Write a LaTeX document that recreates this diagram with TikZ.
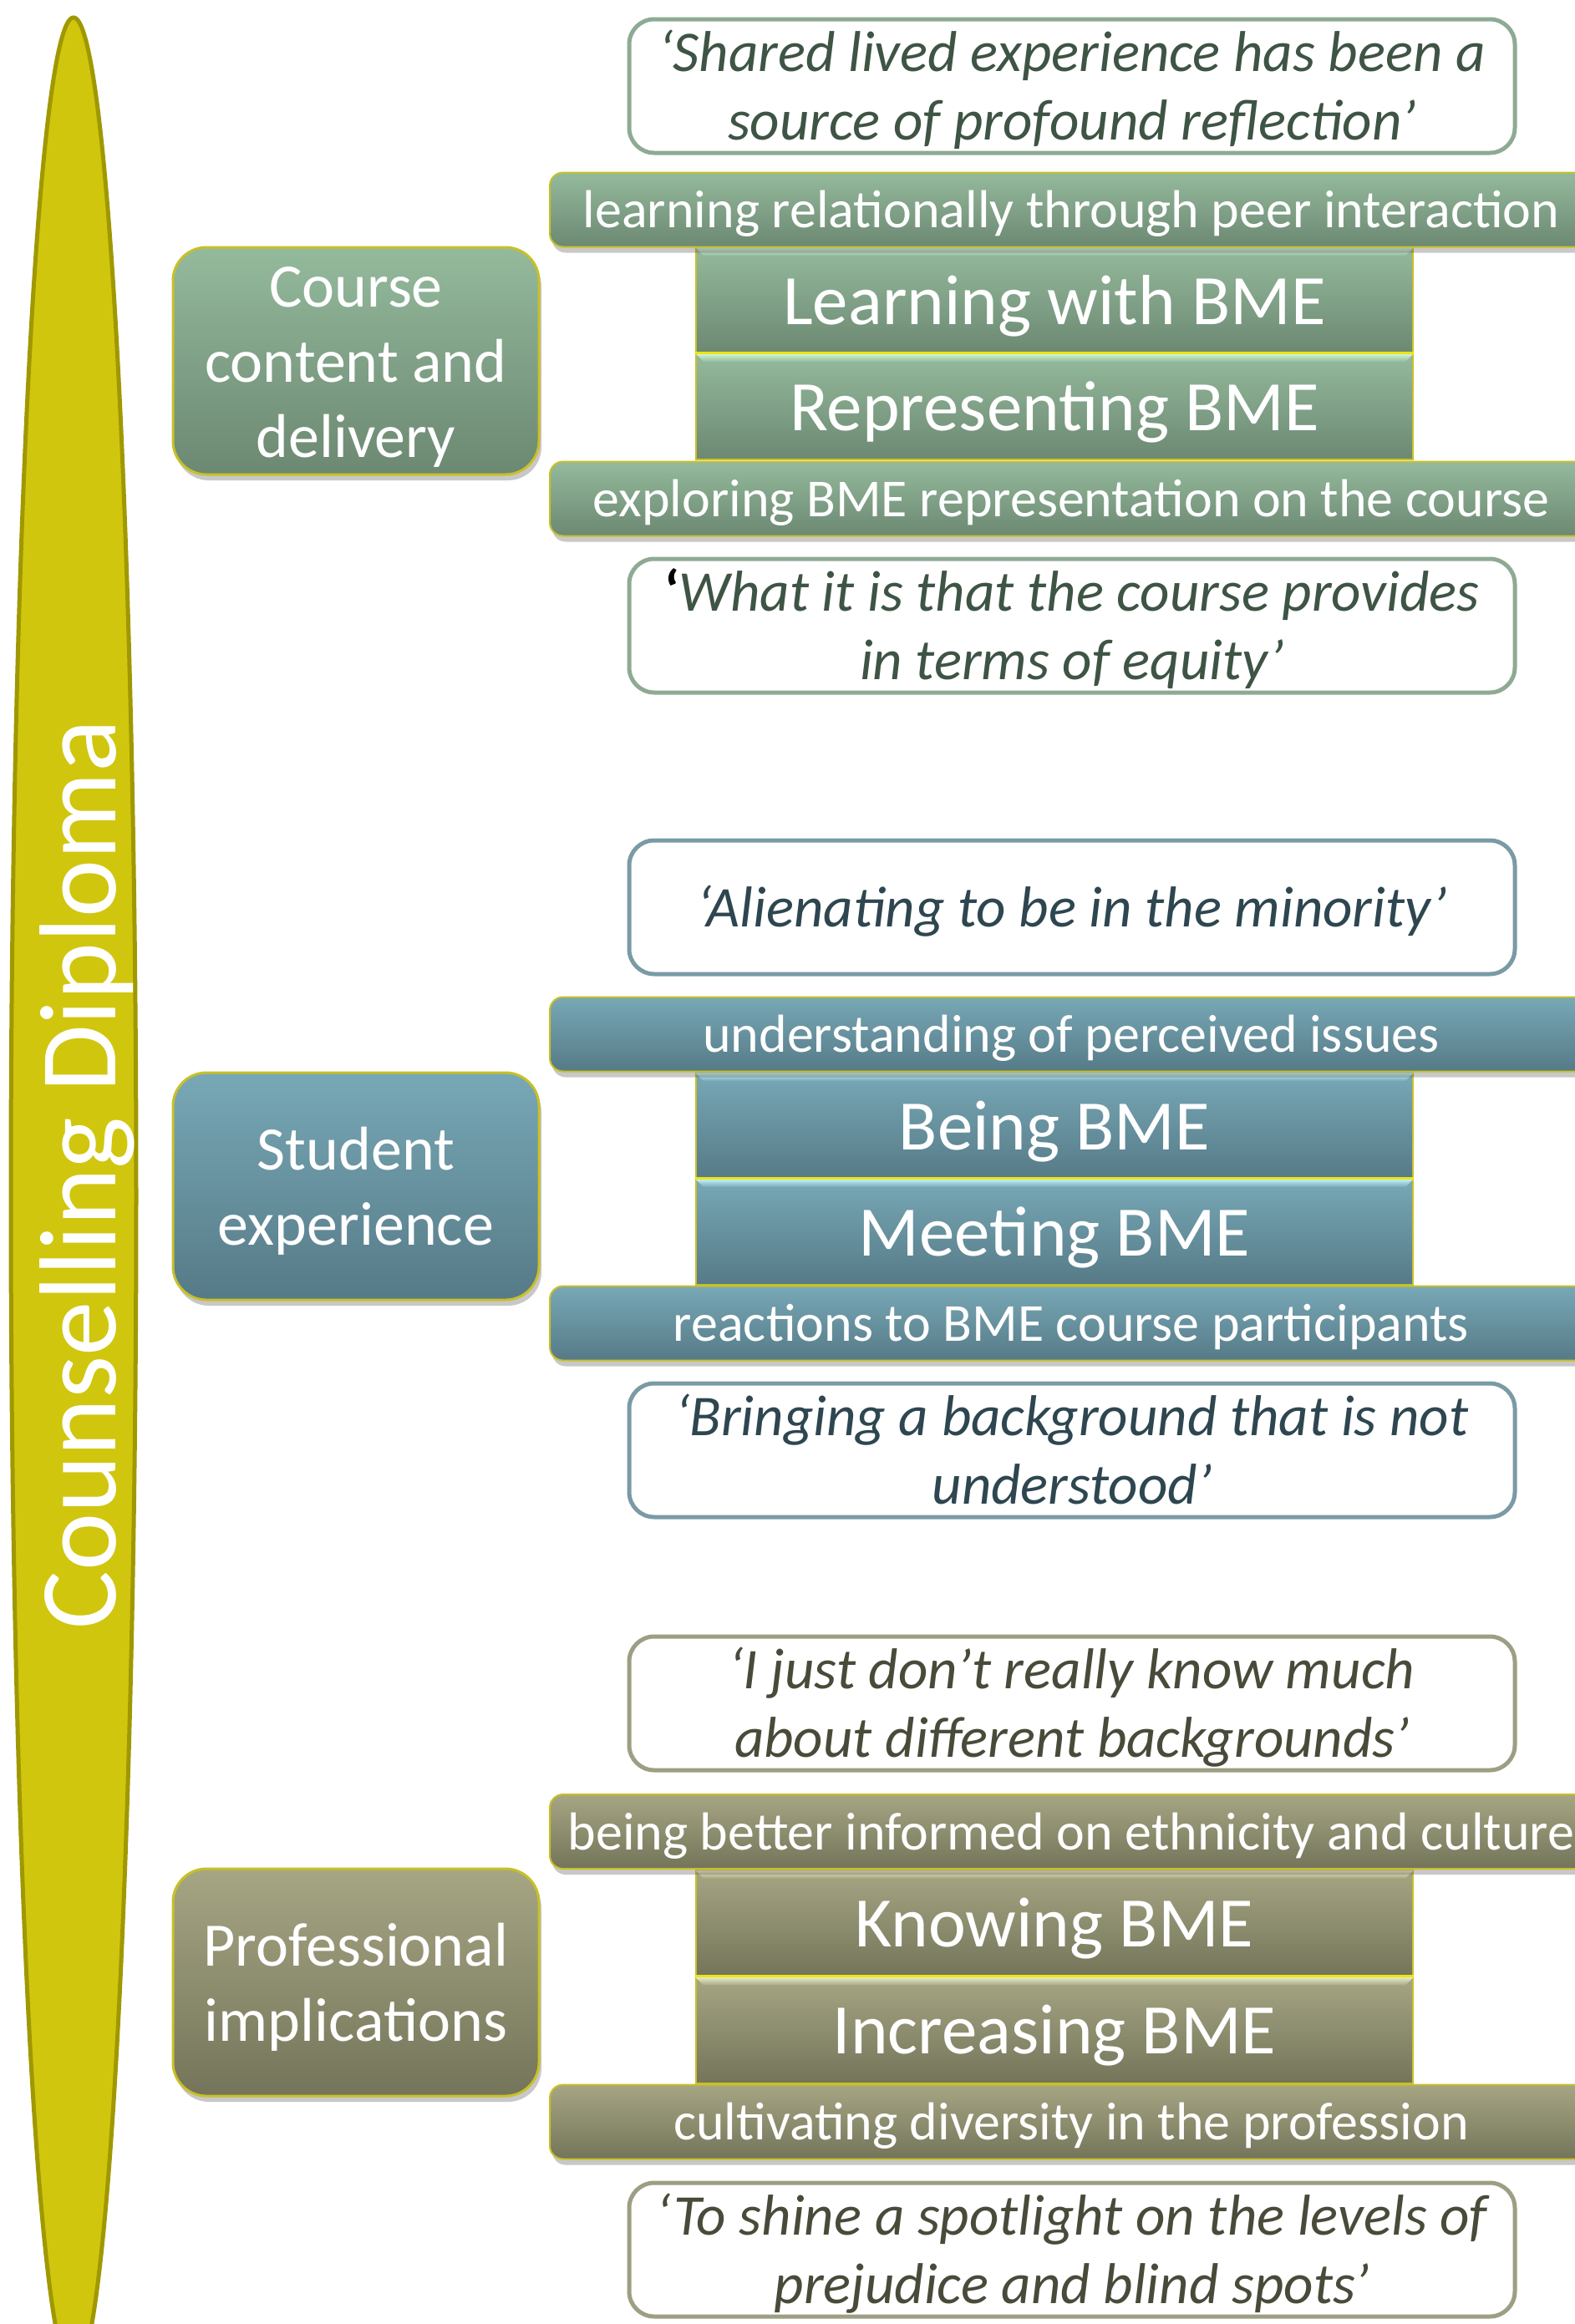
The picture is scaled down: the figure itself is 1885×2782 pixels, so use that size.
\documentclass[tikz,border=0pt]{standalone}
\usepackage{fontspec}
\setmainfont{Carlito}
\usetikzlibrary{shadows}

% palette
\definecolor{ellfill}{RGB}{208,198,14}
\definecolor{elledge}{RGB}{160,152,0}
\definecolor{edge}{RGB}{200,192,40}
\definecolor{sepline}{RGB}{236,228,20}
\definecolor{gTop}{RGB}{148,186,156}
\definecolor{gBot}{RGB}{108,136,114}
\definecolor{gHi}{RGB}{214,246,220}
\definecolor{gLine}{RGB}{142,170,148}
\definecolor{gText}{RGB}{62,84,68}
\definecolor{tTop}{RGB}{120,168,182}
\definecolor{tBot}{RGB}{86,122,135}
\definecolor{tHi}{RGB}{200,246,250}
\definecolor{tLine}{RGB}{122,154,166}
\definecolor{tText}{RGB}{46,70,80}
\definecolor{oTop}{RGB}{166,166,132}
\definecolor{oBot}{RGB}{116,116,90}
\definecolor{oHi}{RGB}{236,236,196}
\definecolor{oLine}{RGB}{158,158,132}
\definecolor{oText}{RGB}{74,74,58}

% text block: #1 = number of line breaks, #2 = lines; the block is
% centred so that its mean baseline sits 0.34em below the node centre
\newcommand\lines[2]{\raisebox{\dimexpr #1\baselineskip/2-0.34em\relax}[0pt][0pt]{\begin{tabular}[t]{@{}c@{}}#2\end{tabular}}}

\tikzset{
  softshadow/.style={drop shadow={shadow xshift=3pt, shadow yshift=-7pt, opacity=0.3, fill=black!70}},
  catbox/.style={rounded corners=40pt, draw=edge, line width=3pt,
    minimum width=438pt, minimum height=272pt, inner sep=0pt,
    text=white, font=\fontsize{74}{90}\selectfont, softshadow},
  barbox/.style={rounded corners=16pt, draw=edge, line width=2pt,
    minimum width=1248pt, minimum height=89pt, inner sep=0pt,
    text=white, font=\fontsize{64}{78}\selectfont, softshadow},
  innerbox/.style={draw=edge, line width=2pt,
    minimum width=858pt, minimum height=127pt, inner sep=0pt,
    text=white, font=\fontsize{85}{104}\selectfont},
  quotebox/.style={rounded corners=30pt, fill=white, line width=5pt,
    minimum width=1060pt, minimum height=160pt, inner sep=0pt,
    font=\itshape\fontsize{69}{82}\selectfont},
  green/.style={top color=gTop, bottom color=gBot},
  teal/.style={top color=tTop, bottom color=tBot},
  olive/.style={top color=oTop, bottom color=oBot},
  gquote/.style={quotebox, draw=gLine, text=gText},
  tquote/.style={quotebox, draw=tLine, text=tText},
  oquote/.style={quotebox, draw=oLine, text=oText},
}

% bevel highlight along the top edge of a box, #1 = node, #2 = colours
\newcommand\bevel[3]{%
  \shade[top color=#2, bottom color=#3]
    ([yshift=-1pt]#1.north west) -- ([yshift=-1pt]#1.north east)
    -- ([xshift=-10pt,yshift=-11pt]#1.north east)
    -- ([xshift=10pt,yshift=-11pt]#1.north west) -- cycle;}

\begin{document}
\begin{tikzpicture}[x=1pt, y=-1pt]
\clip (0,0) rectangle (1885,2782);
\fill[white] (0,0) rectangle (1885,2782);

% title spindle
\draw[fill=ellfill, draw=elledge, line width=5pt] (88,1432) ellipse [x radius=75, y radius=1411];
\node[rotate=90, anchor=base, text=white, font=\fontsize{131}{160}\selectfont] (title) at (138,1406) {Counselling Diploma};

% ---- course content and delivery
\node[catbox, green] (cat1) at (426,432) {\lines{2}{Course\\content and\\delivery}};
\node[innerbox, green] (in1a) at (1262,359.5) {\lines{0}{Learning with BME}};
\node[innerbox, green] (in1b) at (1262,486.5) {\lines{0}{Representing BME}};
\bevel{in1a}{gHi}{gTop}
\bevel{in1b}{gHi}{gTop}
\draw[sepline, line width=3pt] (in1b.north west) -- (in1b.north east);
\node[barbox, green] (bar1a) at (1282,251) {\lines{0}{learning relationally through peer interaction}};
\node[barbox, green] (bar1b) at (1282,597) {\lines{0}{exploring BME representation on the course}};
\node[gquote] (q1a) at (1283,103) {\lines{1}{‘Shared lived experience has been a\\source of profound reflection’}};
\node[gquote] (q1b) at (1283,749) {\lines{1}{{\upshape\bfseries\color{black}‘}What it is that the course provides\\in terms of equity’}};

% ---- student experience
\node[catbox, teal] (cat2) at (426,1420) {\lines{1}{Student\\experience}};
\node[innerbox, teal] (in2a) at (1262,1347.5) {\lines{0}{Being BME}};
\node[innerbox, teal] (in2b) at (1262,1474.5) {\lines{0}{Meeting BME}};
\bevel{in2a}{tHi}{tTop}
\bevel{in2b}{tHi}{tTop}
\draw[sepline, line width=3pt] (in2b.north west) -- (in2b.north east);
\node[barbox, teal] (bar2a) at (1282,1238) {\lines{0}{understanding of perceived issues}};
\node[barbox, teal] (bar2b) at (1282,1584) {\lines{0}{reactions to BME course participants}};
\node[tquote] (q2a) at (1283,1086) {\lines{0}{‘Alienating to be in the minority’}};
\node[tquote] (q2b) at (1283,1736) {\lines{1}{‘Bringing a background that is not\\understood’}};

% ---- professional implications
\node[catbox, olive] (cat3) at (426,2373) {\lines{1}{Professional\\implications}};
\node[innerbox, olive] (in3a) at (1262,2302) {\lines{0}{Knowing BME}};
\node[innerbox, olive] (in3b) at (1262,2430) {\lines{0}{Increasing BME}};
\bevel{in3a}{oHi}{oTop}
\bevel{in3b}{oHi}{oTop}
\draw[sepline, line width=3pt] (in3b.north west) -- (in3b.north east);
\node[barbox, olive] (bar3a) at (1282,2192.5) {\lines{0}{being better informed on ethnicity and culture}};
\node[barbox, olive] (bar3b) at (1282,2540) {\lines{0}{cultivating diversity in the profession}};
\node[oquote] (q3a) at (1283,2039) {\lines{1}{‘I just don{\char39}t really know much\\about different backgrounds’}};
\node[oquote] (q3b) at (1283,2693) {\lines{1}{‘To shine a spotlight on the levels of\\prejudice and blind spots’}};
\end{tikzpicture}
\end{document}
